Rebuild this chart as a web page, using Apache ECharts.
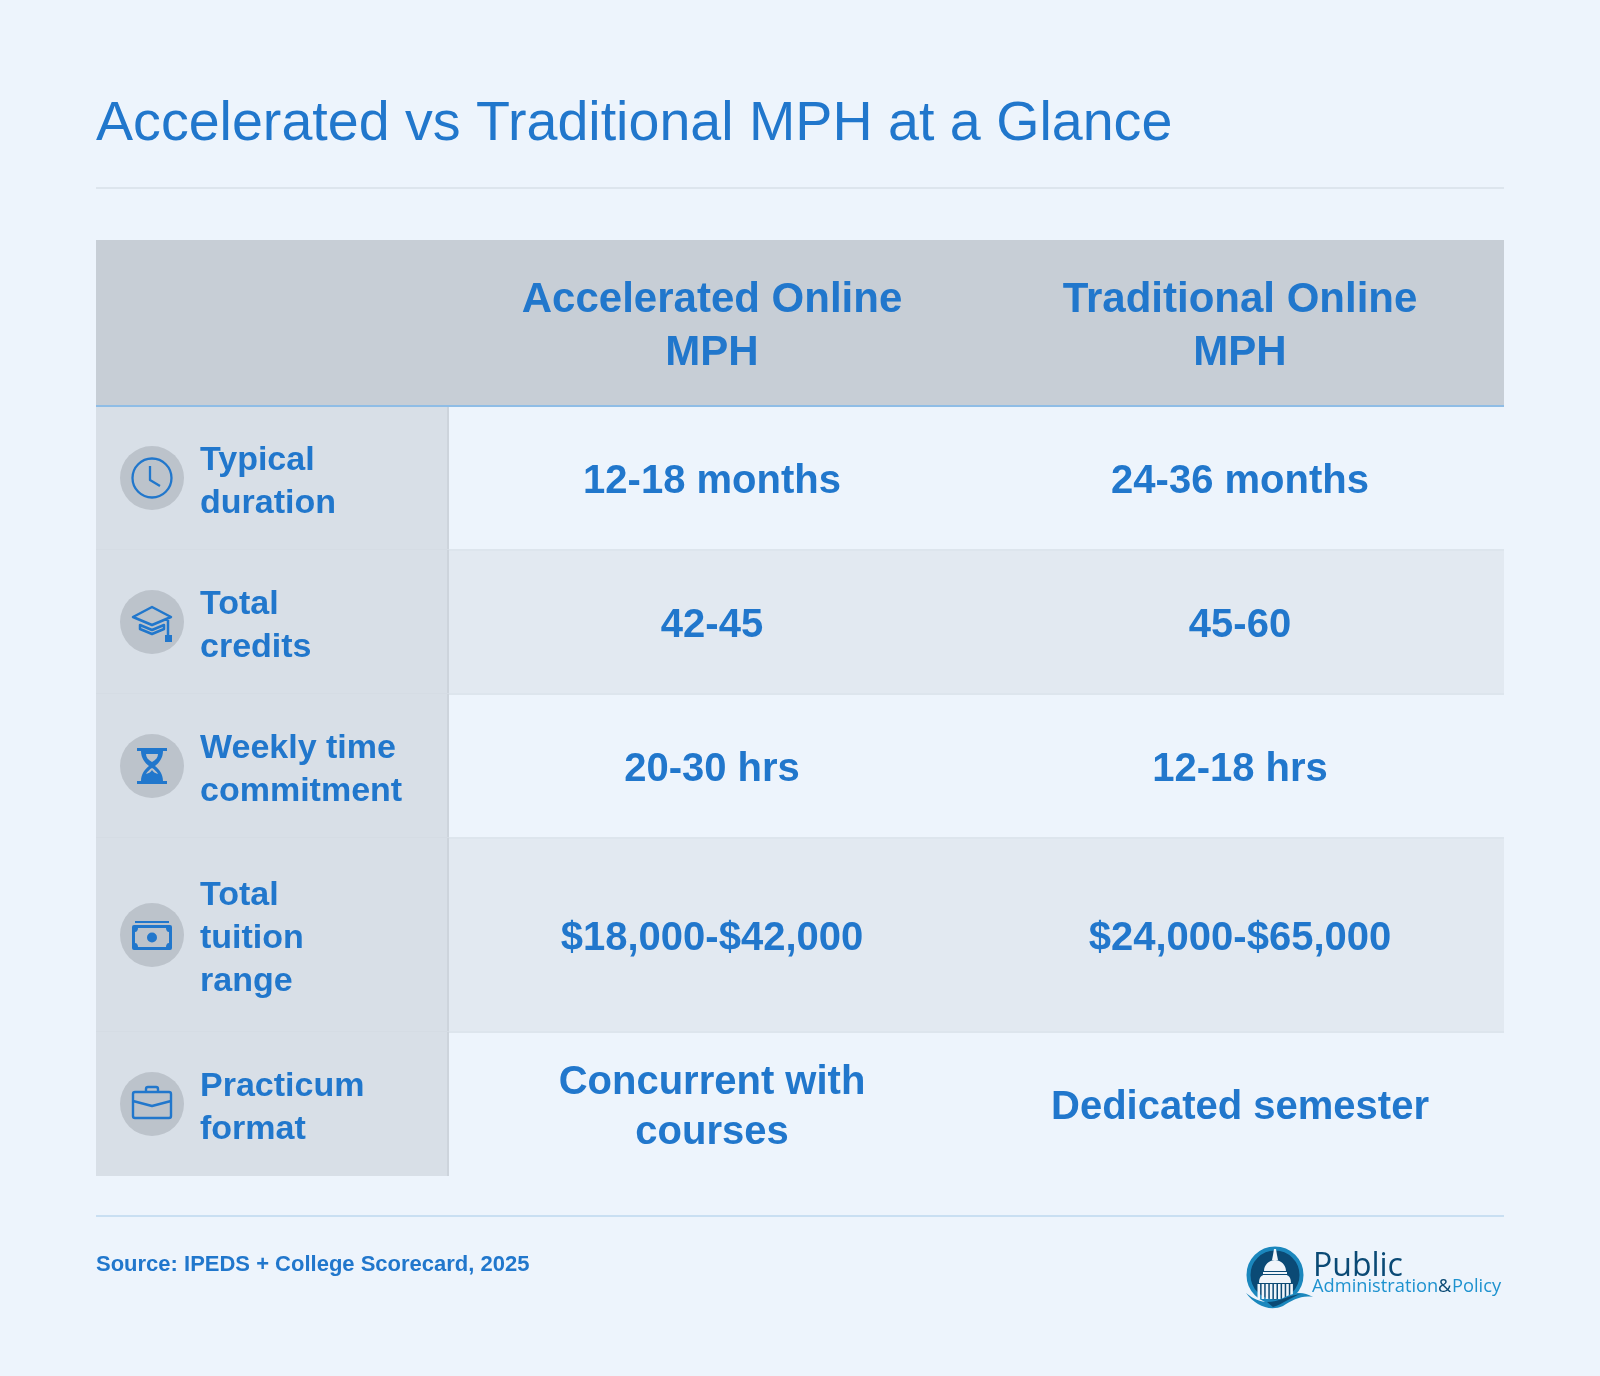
<!DOCTYPE html>
<html>
<head>
<meta charset="utf-8">
<title>Accelerated vs Traditional MPH at a Glance</title>
<script src="https://cdn.jsdelivr.net/npm/echarts@6/dist/echarts.min.js"></script>
<style>
  html, body { margin: 0; padding: 0; background: #edf4fc; }
  #chart { width: 1600px; height: 1376px; }
</style>
</head>
<body>
<div id="chart"></div>
<script>
// table content
const chartTitle = 'Accelerated vs Traditional MPH at a Glance';
const columnHeaders = ['Accelerated Online\nMPH', 'Traditional Online\nMPH'];
const rowLabels = ['Typical\nduration', 'Total\ncredits', 'Weekly time\ncommitment', 'Total\ntuition\nrange', 'Practicum\nformat'];
const acceleratedValues = ['12-18 months', '42-45', '20-30 hrs', '$18,000-$42,000', 'Concurrent with\ncourses'];
const traditionalValues = ['24-36 months', '45-60', '12-18 hrs', '$24,000-$65,000', 'Dedicated semester'];
const rowIcons = ['clock', 'cap', 'hourglass', 'money', 'case'];
const sourceNote = 'Source: IPEDS + College Scorecard, 2025';

// colours
const BLUE = '#2177cc';
const BG = '#edf4fc';
const HEAD_BG = '#c7ced6';
const LABEL_BG = '#d8dfe7';
const ALT_BG = '#e2e9f1';
const CIRCLE = '#bcc3cb';
const RULE = '#dde5ed';
const FONT = '"Liberation Sans", Arial, sans-serif';
const NAVY = '#0b4a75';
const TEAL = '#1b87bd';
const LOGO_TEXT = '#1e92cf';

// layout, in page pixels
const TABLE_L = 96, TABLE_R = 1504, COL1_R = 449, COL2_R = 976;
const HEAD_T = 240, HEAD_B = 406;
const rowEdges = [406, 550, 694, 838, 1032, 1176];
const LOGO_X = 1275, LOGO_Y = 1275;
const TEXT_DY = 4; // row text sits a little under the cell centre

const iconPaths = {
  clock: [
    { stroke: 'M 0 -19.5 A 19.5 19.5 0 1 1 -0.01 -19.5 Z M -2 -12 L -2 2 L 8 8', w: 2.3 }
  ],
  cap: [
    { stroke: 'M -19 -5 L 0 -15 L 19 -5 L 0 3 Z M 16 -4 L 16 13 M -12 3 L -12 7 L 0 12 L 12 7 L 12 3 L 0 8 Z', w: 2.5 },
    { fill: 'M 13 13 L 20 13 L 20 20 L 13 20 Z' }
  ],
  hourglass: [
    { fill: 'M -15 -18 L 15 -18 L 15 -15 L -15 -15 Z M -15 15 L 15 15 L 15 18 L -15 18 Z' },
    { fill: 'M -11 -15 L 11 -15 C 11 -8 7 -3 3 0 C 7 3 11 8 11 15 L -11 15 C -11 8 -7 3 -3 0 C -7 -3 -11 -8 -11 -15 Z M -6 -12 C -6 -9 -4 -6 0 -4 C 4 -6 6 -9 6 -12 Z M 0 2 C -2 3 -5 6 -6 8 C -3 7 -1 6 0 4 C 1 6 3 7 6 8 C 5 6 2 3 0 2 Z' }
  ],
  money: [
    { fill: 'M -17 -14 L 17 -14 L 17 -12 L -17 -12 Z' },
    { fill: 'M -18 -10 L 18 -10 Q 20 -10 20 -8 L 20 13 Q 20 15 18 15 L -18 15 Q -20 15 -20 13 L -20 -8 Q -20 -10 -18 -10 Z M -14 -7 C -14 -5 -15 -3 -17 -3 L -17 8 C -15 8 -14 10 -14 12 L 14 12 C 14 10 15 8 17 8 L 17 -3 C 15 -3 14 -5 14 -7 Z' },
    { fill: 'M 5 2.5 A 5 5 0 1 1 -5 2.5 A 5 5 0 1 1 5 2.5 Z' }
  ],
  case: [
    { stroke: 'M -17 -12 L 17 -12 Q 19 -12 19 -10 L 19 12 Q 19 14 17 14 L -17 14 Q -19 14 -19 12 L -19 -10 Q -19 -12 -17 -12 Z M -19 -3 L 0 2 L 19 -3 M -6 -12 L -6 -15 Q -6 -17 -4 -17 L 4 -17 Q 6 -17 6 -15 L 6 -12', w: 2.4 }
  ]
};

// one table row: label cell, icon, two value cells
function renderRow(params, api) {
  const i = params.dataIndex;
  const tl = api.coord([TABLE_L, rowEdges[i]]);
  const c1 = api.coord([COL1_R, rowEdges[i + 1]]);
  const c2 = api.coord([COL2_R, rowEdges[i + 1]]);
  const br = api.coord([TABLE_R, rowEdges[i + 1]]);
  const top = tl[1], bottom = br[1], mid = (top + bottom) / 2;
  const children = [];
  children.push({ type: 'rect', shape: { x: c1[0], y: top, width: br[0] - c1[0], height: bottom - top },
    style: { fill: i % 2 ? ALT_BG : BG } });
  children.push({ type: 'rect', shape: { x: tl[0], y: top, width: c1[0] - tl[0], height: bottom - top },
    style: { fill: LABEL_BG } });
  if (i > 0) {
    children.push({ type: 'rect', shape: { x: c1[0], y: top - 1, width: br[0] - c1[0], height: 2 }, style: { fill: RULE } });
    children.push({ type: 'rect', shape: { x: tl[0], y: top - 1, width: c1[0] - tl[0], height: 1 }, style: { fill: '#d5dce4' } });
  }
  children.push({ type: 'rect', shape: { x: c1[0] - 2, y: top, width: 2, height: bottom - top }, style: { fill: '#cdd4dc' } });
  children.push({ type: 'circle', shape: { cx: 152, cy: mid, r: 32 }, style: { fill: CIRCLE } });
  iconPaths[rowIcons[i]].forEach(p => {
    children.push({
      type: 'path', x: 152, y: mid,
      shape: { pathData: p.stroke || p.fill, layout: 'none' },
      style: p.stroke ? { fill: null, stroke: BLUE, lineWidth: p.w, lineJoin: 'round' } : { fill: BLUE, fillRule: 'evenodd' }
    });
  });
  const ty = mid + TEXT_DY;
  children.push({ type: 'text', style: { text: rowLabels[i], x: 200, y: ty, fill: BLUE,
    font: 'bold 34px ' + FONT, lineHeight: 43, align: 'left', verticalAlign: 'middle' } });
  children.push({ type: 'text', style: { text: acceleratedValues[i], x: (c1[0] + c2[0]) / 2 - 0.5, y: ty, fill: BLUE,
    font: 'bold 40px ' + FONT, lineHeight: 50, align: 'center', verticalAlign: 'middle' } });
  children.push({ type: 'text', style: { text: traditionalValues[i], x: (c2[0] + br[0]) / 2, y: ty, fill: BLUE,
    font: 'bold 40px ' + FONT, lineHeight: 50, align: 'center', verticalAlign: 'middle' } });
  return { type: 'group', children: children };
}

// header band
function renderHeader(params, api) {
  const tl = api.coord([TABLE_L, HEAD_T]);
  const br = api.coord([TABLE_R, HEAD_B]);
  const midY = (tl[1] + br[1]) / 2 + 3.5;
  return { type: 'group', children: [
    { type: 'rect', shape: { x: tl[0], y: tl[1], width: br[0] - tl[0], height: br[1] - tl[1] }, style: { fill: HEAD_BG } },
    { type: 'text', style: { text: columnHeaders[0], x: 712, y: midY, fill: BLUE,
      font: 'bold 42px ' + FONT, lineHeight: 53, align: 'center', verticalAlign: 'middle' } },
    { type: 'text', style: { text: columnHeaders[1], x: 1240, y: midY, fill: BLUE,
      font: 'bold 42px ' + FONT, lineHeight: 53, align: 'center', verticalAlign: 'middle' } }
  ] };
}

// publisher logo, bottom right
function renderLogo() {
  const WHITE = '#f0f5fa';
  const kids = [
    { type: 'circle', shape: { cx: 0, cy: 0, r: 26.5 }, style: { fill: NAVY, stroke: TEAL, lineWidth: 4 } },
    { type: 'path', shape: { pathData: 'M -1 -26 L 1 -26 L 2 -20 L 3 -15 L -3 -15 L -2 -20 Z M -11 -4 C -11 -10 -6 -15 0 -15 C 6 -15 11 -10 11 -4 Z M -12 -3 L 12 -3 L 12 -1 L -12 -1 Z M -16 8 C -16 2 -13 0 -11 0 L 11 0 C 13 0 16 2 16 8 Z', layout: 'none' }, style: { fill: WHITE } }
  ];
  // columns of the rotunda
  for (let k = 0; k < 9; k++) {
    kids.push({ type: 'rect', shape: { x: -17.5 + k * 4.1, y: 9, width: 2.6, height: 15 }, style: { fill: WHITE } });
  }
  kids.push({ type: 'path', shape: { pathData: 'M -29 18 C -18 27 -6 30 6 24 C 18 18 26 15 38 22 C 26 20 18 25 8 31 C -6 37 -20 30 -29 18 Z', layout: 'none' }, style: { fill: TEAL } });
  kids.push({ type: 'path', shape: { pathData: 'M -8 27 C 4 27 14 20 26 19 C 16 22 8 29 -2 32 Z', layout: 'none' }, style: { fill: NAVY } });
  const txt = (t, x, y, fill, size) => ({ type: 'text', style: { text: t, x: x, y: y, fill: fill, font: size + 'px "Open Sans"', verticalAlign: 'middle' } });
  return { type: 'group', x: LOGO_X, y: LOGO_Y, children: kids.concat([
    txt('Public', 38, -8, NAVY, 32),
    txt('Administration', 37, 12, LOGO_TEXT, 18.3),
    txt('&', 163, 12, NAVY, 18.3),
    txt('Policy', 177, 12, LOGO_TEXT, 18.3)
  ]) };
}

const chart = echarts.init(document.getElementById('chart'), null, { renderer: 'canvas' });

chart.setOption({
  backgroundColor: BG,
  animation: false,
  title: {
    text: chartTitle, left: 91, top: 92,
    textStyle: { color: BLUE, fontFamily: FONT, fontWeight: 'normal', fontSize: 55.6 }
  },
  grid: { left: 0, right: 0, top: 0, bottom: 0 },
  xAxis: { type: 'value', min: 0, max: 1600, show: false },
  yAxis: { type: 'value', min: 0, max: 1376, inverse: true, show: false },
  series: [
    { type: 'custom', silent: true, clip: false, coordinateSystem: 'cartesian2d', data: [[0, 0]], renderItem: renderHeader, z: 1 },
    { type: 'custom', silent: true, clip: false, coordinateSystem: 'cartesian2d', data: rowLabels.map((r, i) => [0, i]), renderItem: renderRow, z: 2 },
    { type: 'custom', silent: true, clip: false, coordinateSystem: 'cartesian2d', data: [[0, 0]], renderItem: renderLogo, z: 3 }
  ],
  graphic: [
    { type: 'rect', shape: { x: 96, y: 187, width: 1408, height: 2 }, style: { fill: RULE } },
    { type: 'rect', z: 10, shape: { x: 96, y: 405, width: 1408, height: 2 }, style: { fill: '#8fbde6' } },
    { type: 'rect', shape: { x: 96, y: 1215, width: 1408, height: 2 }, style: { fill: '#c9dff2' } },
    { type: 'text', style: { text: sourceNote, x: 96, y: 1265, fill: BLUE, font: 'bold 22px ' + FONT, verticalAlign: 'middle' } }
  ]
});
</script>
</body>
</html>
